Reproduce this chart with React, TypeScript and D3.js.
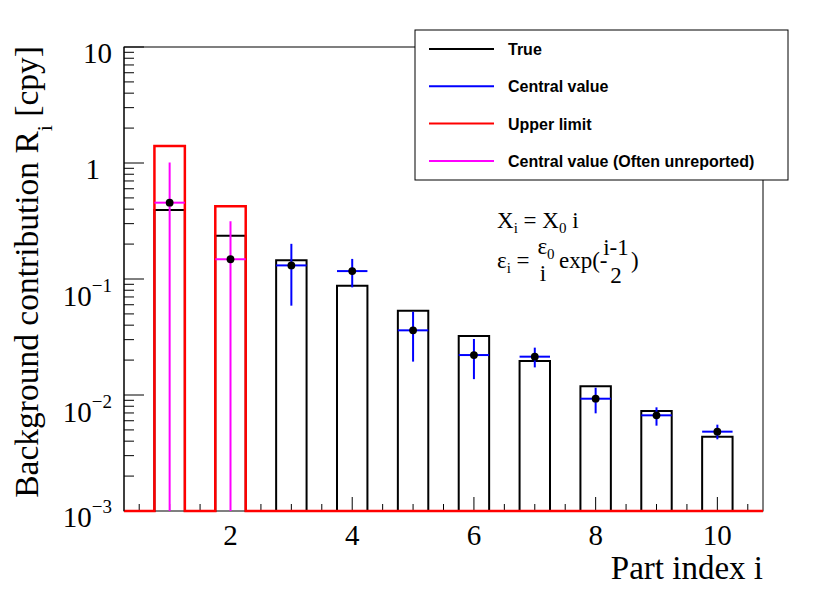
import React from "react";
import * as d3 from "d3";

// ---- data ----
const partIndex = [1, 2, 3, 4, 5, 6, 7, 8, 9, 10];
const trueValues = [0.394, 0.236, 0.145, 0.0875, 0.0533, 0.0323, 0.0196, 0.0119, 0.00728, 0.00437];
const upperLimits = [1.4, 0.424, 0, 0, 0, 0, 0, 0, 0, 0];
const centralValues = [0.455, 0.148, 0.131, 0.117, 0.0361, 0.0221, 0.0214, 0.00929, 0.00668, 0.00483];
const errorHigh = [1.01, 0.314, 0.201, 0.149, 0.0522, 0.0304, 0.0256, 0.01156, 0.00783, 0.00555];
const errorLow = [0, 0, 0.0589, 0.0847, 0.0194, 0.0137, 0.0173, 0.00695, 0.00544, 0.00415];
const unreported = [true, true, false, false, false, false, false, false, false, false];
const xTickLabels = [2, 4, 6, 8, 10];
const yTickValues = [10, 1, 0.1, 0.01, 0.001];
const legendEntries = [
  { label: "True", color: "#000000" },
  { label: "Central value", color: "#0000ff" },
  { label: "Upper limit", color: "#ff0000" },
  { label: "Central value (Often unreported)", color: "#ff00ff" },
];

const W = 830;
const H = 602;
const M = { left: 124, right: 763, top: 47, bottom: 511 };
const X_DOMAIN: [number, number] = [0.25, 10.75];
const Y_DOMAIN: [number, number] = [0.001, 10];
const BIN_HALF = 0.25;

const serif = "'Liberation Serif', 'Times New Roman', serif";
const sans = "'Liberation Sans', Arial, Helvetica, sans-serif";

export default function App() {
  const x = d3.scaleLinear().domain(X_DOMAIN).range([M.left, M.right]);
  const y = d3.scaleLog().domain(Y_DOMAIN).range([M.bottom, M.top]);
  const yc = (v: number) => y(Math.max(v, Y_DOMAIN[0]));

  const histPath = (vals: number[]) => {
    const pts: [number, number][] = [[X_DOMAIN[0], Y_DOMAIN[0]]];
    partIndex.forEach((p, i) => {
      const v = Math.max(vals[i], Y_DOMAIN[0]);
      pts.push([p - BIN_HALF, Y_DOMAIN[0]], [p - BIN_HALF, v], [p + BIN_HALF, v], [p + BIN_HALF, Y_DOMAIN[0]]);
    });
    pts.push([X_DOMAIN[1], Y_DOMAIN[0]]);
    return d3.line<[number, number]>().x((d) => x(d[0])).y((d) => yc(d[1]))(pts) || "";
  };

  const xMinor = d3.range(0.5, 10.75, 0.5);
  const yMajor = yTickValues;
  const yMinor: number[] = [];
  for (let e = -3; e < 1; e++) for (let k = 2; k <= 9; k++) yMinor.push(k * Math.pow(10, e));

  const yLabel = (v: number) => {
    const t = y(v);
    const exp = Math.round(Math.log10(v));
    if (exp === 0) {
      return (
        <text key={v} x={100} y={t + 16} textAnchor="end" fontFamily={serif} fontSize={29}>
          1
        </text>
      );
    }
    if (exp === 1) {
      return (
        <text key={v} x={112} y={t + 16} textAnchor="end" fontFamily={serif} fontSize={29}>
          10
        </text>
      );
    }
    const dy = v === Y_DOMAIN[0] ? 16 : 27;
    return (
      <text key={v} x={112} y={t + dy} textAnchor="end" fontFamily={serif} fontSize={29}>
        10
        <tspan dy={-14} fontSize={19}>
          {"\u2212" + Math.abs(exp)}
        </tspan>
      </text>
    );
  };

  return (
    <svg width={W} height={H} style={{ display: "block", position: "absolute", left: 0, top: 0 }}>
      <rect x={0} y={0} width={W} height={H} fill="#ffffff" />
      <rect x={M.left} y={M.top} width={M.right - M.left} height={M.bottom - M.top} fill="#ffffff" stroke="#000" strokeWidth={1} />
      {yMajor.map((v) => (
        <line key={"ym" + v} x1={M.left} x2={M.left + 20} y1={y(v)} y2={y(v)} stroke="#000" strokeWidth={1} />
      ))}
      {yMinor.map((v) => (
        <line key={"yn" + v} x1={M.left} x2={M.left + 10} y1={y(v)} y2={y(v)} stroke="#000" strokeWidth={1} />
      ))}
      {xMinor.map((v) => {
        const major = Math.abs(v % 2) < 1e-9;
        return (
          <line key={"xt" + v} x1={x(v)} x2={x(v)} y1={M.bottom} y2={M.bottom - (major ? 14 : 7)} stroke="#000" strokeWidth={1} />
        );
      })}
      <path d={histPath(trueValues)} fill="none" stroke="#000" strokeWidth={2} />
      <path d={histPath(upperLimits)} fill="none" stroke="#ff0000" strokeWidth={2.5} />
      {partIndex.map((p, i) => {
        const col = unreported[i] ? "#ff00ff" : "#0000ff";
        return (
          <g key={"cv" + p}>
            <line x1={x(p)} x2={x(p)} y1={yc(errorHigh[i])} y2={yc(errorLow[i])} stroke={col} strokeWidth={2} />
            <line x1={x(p - BIN_HALF)} x2={x(p + BIN_HALF)} y1={yc(centralValues[i])} y2={yc(centralValues[i])} stroke={col} strokeWidth={2} />
            <circle cx={x(p)} cy={yc(centralValues[i])} r={3.9} fill="#000" />
          </g>
        );
      })}
      <line x1={M.left} x2={M.left} y1={M.top} y2={M.bottom} stroke="#000" strokeWidth={1} />
      {yMajor.map((v) => yLabel(v))}
      {xTickLabels.map((v) => (
        <text key={"xl" + v} x={x(v)} y={545} textAnchor="middle" fontFamily={serif} fontSize={29}>
          {v}
        </text>
      ))}
      <text x={M.right} y={579} textAnchor="end" fontFamily={serif} fontSize={33}>
        Part index i
      </text>
      <text transform="rotate(-90)" x={-46} y={38} textAnchor="end" fontFamily={serif} fontSize={33.5}>
        Background contribution R
        <tspan dy={14} fontSize={22}>i</tspan>
        <tspan dy={-14}> [cpy]</tspan>
      </text>
      <g fontFamily={serif} fontSize={23}>
        <text x={497} y={228}>
          X<tspan dy={5} fontSize={15}>i</tspan>
          <tspan dy={-5}> = X</tspan>
          <tspan dy={5} fontSize={15}>0</tspan>
          <tspan dy={-5}> i</tspan>
        </text>
        <text x={497} y={268}>
          ε<tspan dy={5} fontSize={15}>i</tspan>
          <tspan dy={-5}> =</tspan>
        </text>
        <text x={546} y={254} textAnchor="middle">
          ε<tspan dy={5} fontSize={15}>0</tspan>
        </text>
        <text x={543} y={281} textAnchor="middle">i</text>
        <text x={559} y={268}>exp(-</text>
        <text x={616} y={255} textAnchor="middle">i-1</text>
        <text x={616} y={283} textAnchor="middle">2</text>
        <text x={631} y={268}>)</text>
      </g>
      <rect x={415} y={30} width={373} height={150} fill="#ffffff" stroke="#000" strokeWidth={1} />
      {legendEntries.map((e, i) => {
        const ry = 49 + i * 37.3;
        return (
          <g key={e.label}>
            <line x1={429} x2={494} y1={ry} y2={ry} stroke={e.color} strokeWidth={2} />
            <text x={508} y={ry + 6} fontFamily={sans} fontWeight="bold" fontSize={16}>
              {e.label}
            </text>
          </g>
        );
      })}
    </svg>
  );
}
